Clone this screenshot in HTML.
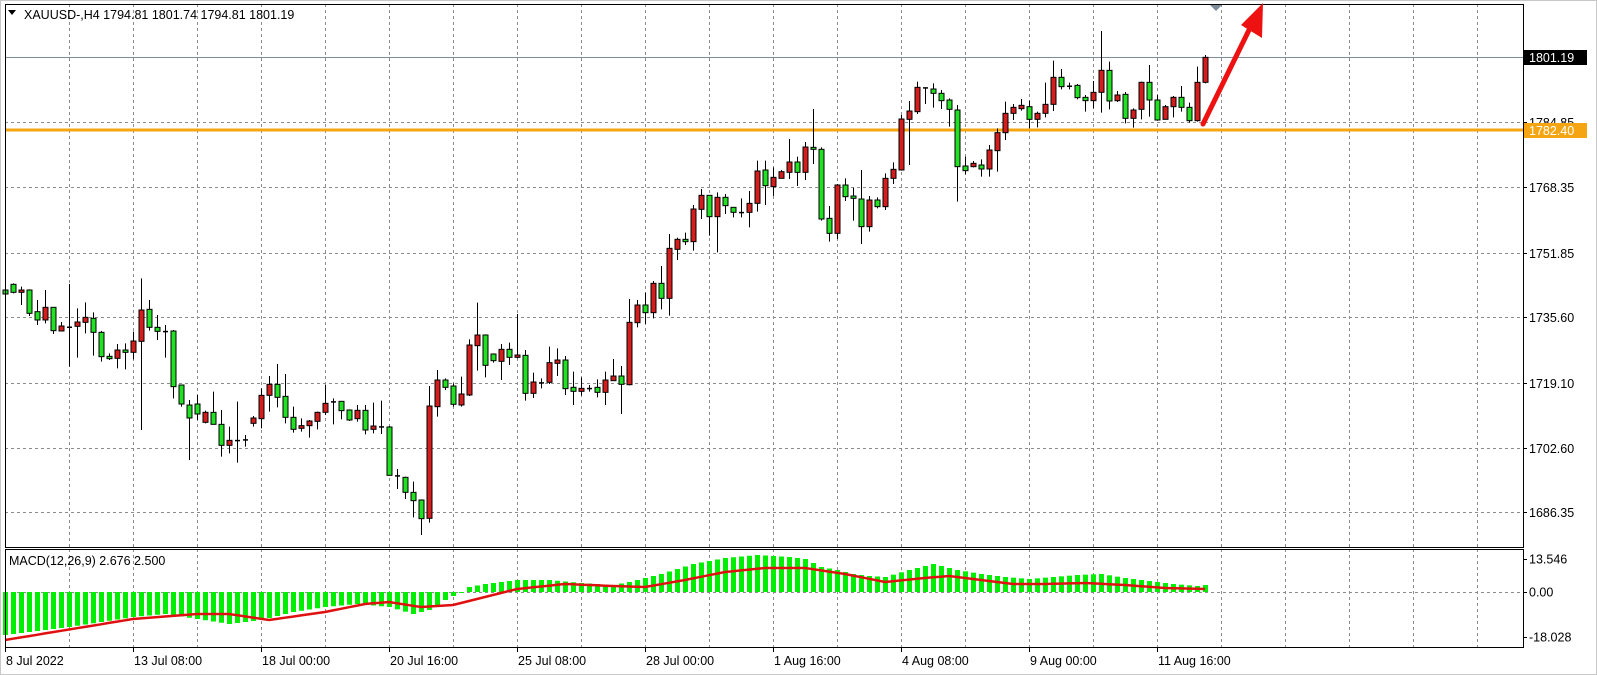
<!DOCTYPE html>
<html><head><meta charset="utf-8"><style>
html,body{margin:0;padding:0;background:#fff;}
svg{display:block;font-family:"Liberation Sans",sans-serif;}
</style></head><body>
<svg id="s" width="1597" height="675" viewBox="0 0 1597 675" xmlns="http://www.w3.org/2000/svg"></svg>
<script>
const S=document.getElementById('s');
let h='';
const add=t=>h+=t;
// background
add('<rect x="0" y="0" width="1597" height="675" fill="#fff"/>');
add('<rect x="0.5" y="0.5" width="1596" height="674" fill="none" stroke="#c8c8c8"/>');
// price mapping
const py=p=>122+(1784.85-p)*3.964;
const L=5,R=1523,T=4,B=547,MT=549,MB=647,Z=592;
// vertical grid
for(let x=69;x<R;x+=64){
  add(`<line x1="${x+.5}" y1="${T}" x2="${x+.5}" y2="${B}" stroke="#8c8c8c" stroke-dasharray="3,3"/>`);
  add(`<line x1="${x+.5}" y1="${MT}" x2="${x+.5}" y2="${MB}" stroke="#8c8c8c" stroke-dasharray="3,3"/>`);
}
const ticks=[1784.85,1768.35,1751.85,1735.60,1719.10,1702.60,1686.35];
ticks.forEach(p=>{const y=Math.round(py(p))+.5;
  add(`<line x1="${L}" y1="${y}" x2="${R}" y2="${y}" stroke="#8c8c8c" stroke-dasharray="3,3"/>`);
  add(`<line x1="${R}" y1="${y}" x2="${R+4}" y2="${y}" stroke="#000"/>`);
  add(`<text x="1529" y="${y+4.5}" font-size="12.5" fill="#000">${p.toFixed(2)}</text>`);
});
// macd zero grid
add(`<line x1="${L}" y1="${Z+.5}" x2="${R}" y2="${Z+.5}" stroke="#8c8c8c" stroke-dasharray="3,3"/>`);
// current price line
add(`<line x1="${L}" y1="57.5" x2="${R}" y2="57.5" stroke="#7f8c99"/>`);
// orange level
add(`<line x1="${L}" y1="130" x2="${R}" y2="130" stroke="#f5a512" stroke-width="3"/>`);

// candle data: [type(g/r/d), top, bottom, high, low] in zoom coords
const segs=[
[260,[
['g',90,102,62,112],['g',73,97,70,100],['r',90,97,80,135],['g',90,160,88,168],['g',155,180,120,195],
['r',142,180,90,190],['g',142,212,142,222],['r',198,213,186,213],['d',200,202,72,320],['r',186,199,145,293],
['r',172,187,127,220],['g',175,217,157,287],['g',217,290,213,305],['g',289,296,280,300],['r',270,295,252,325],
['g',270,277,250,328],['r',243,277,215,298],['r',150,244,55,510],['g',148,202,120,212],['g',202,214,165,240],
['d',213,215,195,293],['g',213,380,210,415],['g',375,432,375,440]]],
[0,[['g',405*3,418*3,400*3,460*3],['g',404*3,414*3,395*3,420*3]]],
[290,[
['r',367,397,362,400],['g',367,403,305,403],['g',403,466,360,500],['r',451,466,410,490],['d',450,452,335,518],
['d',448,450,435,470],['r',384,400,378,410],['r',316,386,295,415],['r',283,316,258,365],['g',283,322,222,352],
['g',319,382,252,400],['g',382,418,350,428],['r',407,415,385,425],['r',393,407,390,443],['r',367,394,365,418],
['r',340,367,285,375],['d',334,336,325,403],['g',334,362,334,388],['g',360,390,358,393],['r',361,386,345,395],
['g',361,420,345,433],['r',408,418,338,430],['d',409,411,332,432],['g',411,556,408,556],['d',556,558,537,597],
['g',562,607,560,627],['g',607,632,575,682],['g',630,686,628,735],['r',348,685,288,698]]],
[170,[
['r',630,710,600,740],['g',630,652,625,660],['g',648,703,640,710],['r',672,705,620,710],['r',525,675,508,678],
['r',495,527,398,602],['g',495,586,493,622],['g',552,572,550,578],['r',538,574,522,630],['g',538,562,518,585],
['r',555,562,432,565],['g',556,670,540,692],['r',636,670,608,684],['d',637,639,625,655],['r',578,637,530,642],
['r',570,580,535,618],['g',570,656,558,675],['g',652,664,605,705],['r',655,664,622,677],['d',654,656,645,665],
['g',652,667,628,682],['r',630,667,605,705],['r',618,632,567,632],['g',618,643,588,732],['r',457,644,387,646],
['r',405,458,390,472],['g',405,428,368,462],['r',340,428,333,445],['g',340,385,288,418],['r',235,385,192,437]]],
[90,[
['r',448,478,443,510],['g',448,455,428,465],['r',357,455,345,482],['r',316,358,297,387],['g',316,380,316,437],
['r',322,380,307,487],['g',322,347,312,372],['g',352,367,352,382],['d',366,368,325,382],['r',340,367,303,412],
['r',243,340,212,365],['g',240,287,212,345],['r',262,290,232,318],['r',245,265,240,265],['r',216,247,147,267],
['g',216,247,200,288],['r',171,247,156,270],['g',172,178,57,222],['g',178,387,172,392],['g',385,430,348,455],
['r',285,430,282,447],['g',285,320,265,333],['g',318,325,293,392],['g',327,410,240,462],['r',330,410,318,425],
['g',330,350,322,355]]],
[10,[
['r',505,590,490,600],['r',478,505,457,522],['r',327,480,315,482],['r',303,328,273,465],['r',232,305,215,312],
['d',232,234,232,282],['g',237,250,220,293],['g',250,272,240,297],['g',270,298,265,350],['g',300,470,285,575],
['g',468,482,440,493],['r',460,470,453,472],['g',465,477,448,500],['r',420,477,405,500],['r',368,422,355,485],
['r',310,368,275,390],['r',292,310,282,330],['r',286,296,267,302],['g',290,328,272,355],['r',310,328,305,352],
['r',283,310,218,322],['r',202,283,152,303],['g',202,230,177,238],['d',227,229,218,238],['g',226,263,222,268],
['g',262,272,255,305],['r',247,272,213,295],['r',181,247,63,308],['g',181,273,155,298],['r',255,272,243,276]]],
[0,[
['g',283,355,276,370],['r',330,355,325,383],['r',247,328,245,358],['g',247,300,195,350],['g',300,360,285,362],
['r',320,358,315,358],['r',292,320,288,352],['g',292,322,258,335],['g',322,362,308,368],['r',247,362,200,365],
['r',172,247,165,250]]]
];
let i=0;
segs.forEach(([off,arr])=>{arr.forEach(c=>{
  const x=5+8*i; i++;
  const f=v=>off+v/3;
  let top=f(c[1]),bot=f(c[2]),hi=f(c[3]),lo=f(c[4]);
  add(`<line x1="${x+.5}" y1="${hi}" x2="${x+.5}" y2="${lo}" stroke="#000"/>`);
  if(c[0]==='d'){add(`<rect x="${x-2}" y="${(top+bot)/2-0.5}" width="5" height="1.5" fill="#000"/>`);}
  else{let hh=Math.max(bot-top,2);
    add(`<rect x="${x-2}" y="${top}" width="5" height="${hh}" fill="${c[0]==='g'?'#22e022':'#d41e1e'}" stroke="#000" stroke-width="1"/>`);}
});});

// MACD histogram
const hk=[[0,-43],[8,-35],[16,-25],[20,-22],[24,-27],[28,-32],[32,-28],[36,-20],[40,-15],[44,-12],[48,-15],[51,-22],[53,-18],[55,-8],[57,0],[58,5],[60,8],[64,12],[68,12],[72,9],[76,7],[78,10],[82,18],[86,28],[90,34],[94,37],[98,35],[100,33],[102,25],[104,22],[106,18],[108,16],[110,15],[113,22],[116,28],[119,22],[122,18],[125,15],[128,13],[131,15],[134,17],[137,18],[140,14],[143,11],[146,8],[149,6],[150,7]];
const sk=[[0,-48],[16,-27],[24,-22],[28,-22],[33,-28],[40,-20],[45,-12],[48,-10],[52,-15],[56,-13],[60,-5],[64,3],[70,8],[76,6],[80,5],[85,12],[90,20],[95,24],[100,24],[105,18],[110,10],[115,14],[118,16],[122,12],[126,8],[130,8],[135,9],[140,7],[145,4],[150,3]];
const interp=(k,t)=>{for(let j=0;j<k.length-1;j++){if(t>=k[j][0]&&t<=k[j+1][0]){const a=k[j],b=k[j+1];return a[1]+(b[1]-a[1])*(t-a[0])/(b[0]-a[0]);}}return k[k.length-1][1];};
for(let t=0;t<=150;t++){const x=5+8*t,v=interp(hk,t);
  const y=v>=0?Z-v:Z; add(`<rect x="${x-2}" y="${y}" width="5" height="${Math.max(Math.abs(v),1)}" fill="#00ee00"/>`);}
let pts=[];for(let t=0;t<=150;t++){pts.push((5+8*t)+','+(Z-interp(sk,t)).toFixed(1));}
add(`<polyline points="${pts.join(' ')}" fill="none" stroke="#e01010" stroke-width="2.5"/>`);

// frames
add(`<rect x="${L+.5}" y="${T+.5}" width="${R-L}" height="${B-T}" fill="none" stroke="#000"/>`);
add(`<rect x="${L+.5}" y="${MT+.5}" width="${R-L}" height="${MB-MT}" fill="none" stroke="#000"/>`);
// macd labels
[[13.546,559],[0,592],[-18.028,637]].forEach(([v,y])=>{
  add(`<line x1="${R}" y1="${y+.5}" x2="${R+4}" y2="${y+.5}" stroke="#000"/>`);
  add(`<text x="1529" y="${y+4.5}" font-size="12.5">${v===0?'0.00':v.toFixed(3)}</text>`);});
add(`<text x="9" y="565" font-size="12.5">MACD(12,26,9) 2.676 2.500</text>`);
// price labels boxes
add(`<rect x="1524" y="50" width="63" height="15" fill="#000"/><text x="1529" y="62" font-size="12.5" fill="#fff">1801.19</text>`);
add(`<rect x="1524" y="123" width="63" height="15" fill="#f5a512"/><text x="1529" y="135" font-size="12.5" fill="#fff">1782.40</text>`);
// title
add(`<path d="M8 10 L16 10 L12 15 Z" fill="#000"/><text x="24" y="19" font-size="12.5">XAUUSD-,H4  1794.81 1801.74 1794.81 1801.19</text>`);
// gray marker
add(`<path d="M1210 5 L1222 5 L1216 11 Z" fill="#7f8c99"/>`);
// red arrow
add(`<line x1="1203" y1="124" x2="1250" y2="28" stroke="#ee1111" stroke-width="5" stroke-linecap="round"/>`);
add(`<path d="M1263 3 L1241 25 L1262 38 Z" fill="#ee1111"/>`);
// time labels
const tl=[[5,'8 Jul 2022'],[133,'13 Jul 08:00'],[261,'18 Jul 00:00'],[389,'20 Jul 16:00'],[517,'25 Jul 08:00'],[645,'28 Jul 00:00'],[773,'1 Aug 16:00'],[901,'4 Aug 08:00'],[1029,'9 Aug 00:00'],[1157,'11 Aug 16:00']];
tl.forEach(([x,s])=>{add(`<line x1="${x+.5}" y1="${MB}" x2="${x+.5}" y2="${MB+5}" stroke="#000"/><text x="${x+1}" y="665" font-size="12.5">${s}</text>`);});
S.innerHTML=h;
</script>
</body></html>
